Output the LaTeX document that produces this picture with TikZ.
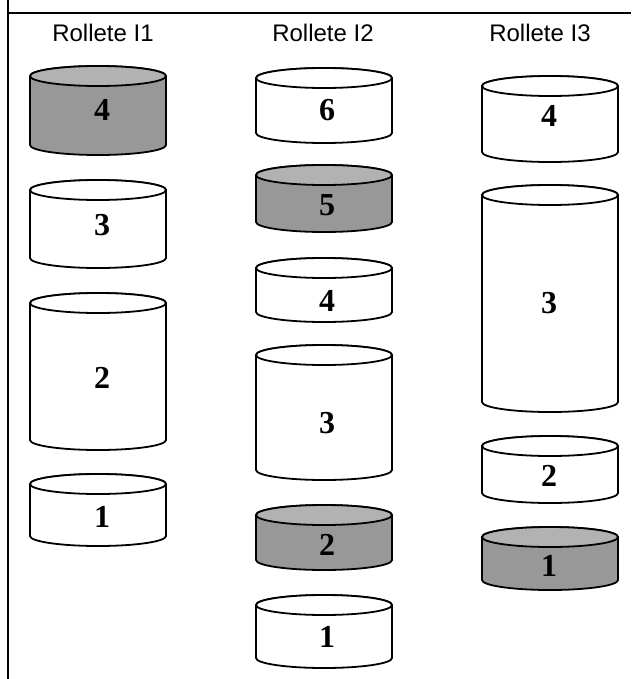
\documentclass[tikz,border=0pt]{standalone}
\usepackage{fontspec}
\setmainfont{Liberation Serif}
\newfontfamily\labfont{Liberation Sans}
\definecolor{drumbody}{RGB}{152,152,152}
\definecolor{drumtop}{RGB}{178,178,178}
\tikzset{
  drumline/.style={draw=black, line width=1.8pt},
  framel/.style={draw=black, line width=1.6pt},
  numlab/.style={inner sep=0pt, anchor=base, font=\fontsize{32}{32}\selectfont\bfseries},
  collab/.style={inner sep=0pt, anchor=base, font=\labfont\fontsize{24}{24}\selectfont}
}
% #1 cx, #2 top-ellipse centre y, #3 bottom-ellipse centre y, #4 body, #5 top
\newcommand\drum[5]{%
  \filldraw[drumline, fill=#4] (#1-68,-#2) -- (#1-68,-#3)
     arc[start angle=180, end angle=360, x radius=68pt, y radius=10pt]
     -- (#1+68,-#2)
     arc[start angle=0, end angle=180, x radius=68pt, y radius=10pt] -- cycle;
  \filldraw[drumline, fill=#5] (#1,-#2) ellipse[x radius=68pt, y radius=10pt];
}
\begin{document}
\begin{tikzpicture}[x=1pt,y=1pt]
\useasboundingbox (0,0) rectangle (631,-679);
% frame
\coordinate (ftop) at (8,0);
\coordinate (fbot) at (8,-679);
\coordinate (hl) at (8,-13);
\coordinate (hr) at (631,-13);
\draw[framel] (ftop) -- (fbot);
\draw[framel] (hl) -- (hr);
% column titles
\node[collab] (t1) at (103,-42) {Rollete I1};
\node[collab] (t2) at (323,-42) {Rollete I2};
\node[collab] (t3) at (540,-42) {Rollete I3};
% column 1
\drum{98}{76}{145}{drumbody}{drumtop}
\drum{98}{190}{258}{white}{white}
\drum{98}{303}{440}{white}{white}
\drum{98}{484}{536}{white}{white}
\node[numlab] (a4) at (102,-121) {4};
\node[numlab] (a3) at (102,-235) {3};
\node[numlab] (a2) at (102,-388) {2};
\node[numlab] (a1) at (102,-527) {1};
% column 2
\drum{324}{78}{133}{white}{white}
\drum{324}{175}{222}{drumbody}{drumtop}
\drum{324}{268}{312}{white}{white}
\drum{324}{355}{470}{white}{white}
\drum{324}{515}{560}{drumbody}{drumtop}
\drum{324}{605}{658}{white}{white}
\node[numlab] (b6) at (327,-121) {6};
\node[numlab] (b5) at (327,-215) {5};
\node[numlab] (b4) at (327,-311) {4};
\node[numlab] (b3) at (327,-433) {3};
\node[numlab] (b2) at (327,-555) {2};
\node[numlab] (b1) at (327,-647) {1};
% column 3
\drum{550}{86}{152}{white}{white}
\drum{550}{195}{402}{white}{white}
\drum{550}{446}{493}{white}{white}
\drum{550}{537}{580}{drumbody}{drumtop}
\node[numlab] (c4) at (549,-127) {4};
\node[numlab] (c3) at (549,-313) {3};
\node[numlab] (c2) at (549,-486) {2};
\node[numlab] (c1) at (549,-576) {1};
\end{tikzpicture}
\end{document}
